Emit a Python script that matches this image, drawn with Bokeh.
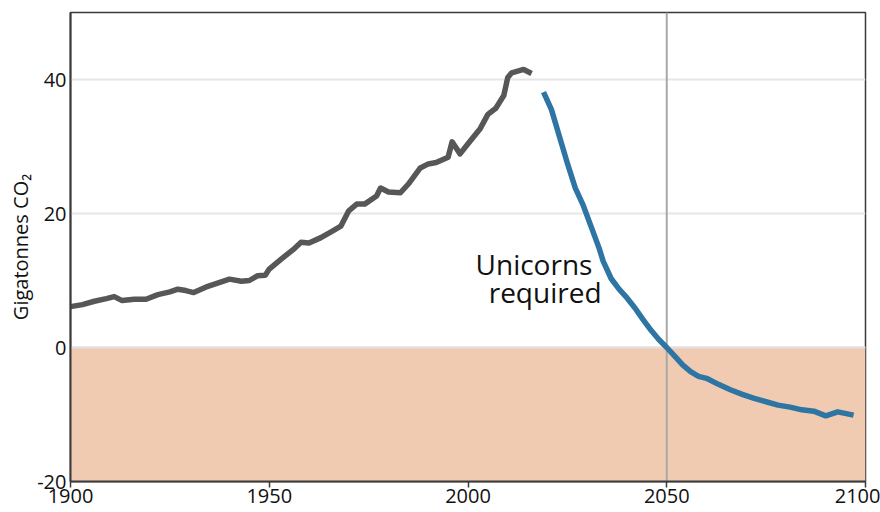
from bokeh.plotting import figure
from bokeh.models import Span, BoxAnnotation, Label, FixedTicker
from bokeh.embed import file_html
from bokeh.resources import INLINE

# Historical emissions (Gt CO2)
hist_years = [1900, 1903, 1906, 1909, 1911, 1913, 1916, 1919, 1922, 1925, 1927, 1929,
              1931, 1934, 1937, 1940, 1943, 1945, 1947, 1949, 1950, 1953, 1956, 1958,
              1960, 1963, 1966, 1968, 1970, 1972, 1974, 1977, 1978, 1980, 1983, 1985,
              1988, 1990, 1992, 1995, 1996, 1998, 2000, 2003, 2005, 2007, 2009, 2010,
              2011, 2014, 2016]
hist_values = [6.1, 6.4, 6.9, 7.3, 7.6, 7.0, 7.2, 7.2, 7.9, 8.3, 8.7, 8.5,
               8.2, 9.0, 9.6, 10.2, 9.9, 10.0, 10.7, 10.8, 11.7, 13.2, 14.6, 15.7,
               15.6, 16.4, 17.4, 18.1, 20.4, 21.4, 21.4, 22.6, 23.8, 23.2, 23.1, 24.4,
               26.8, 27.4, 27.6, 28.4, 30.7, 28.9, 30.4, 32.6, 34.8, 35.7, 37.6, 40.3,
               41.0, 41.5, 40.9]

# Required pathway (Gt CO2)
path_years = [2019, 2021, 2023, 2025, 2027, 2029, 2031, 2033, 2034, 2036, 2038, 2040,
              2042, 2044, 2046, 2048, 2050, 2052, 2054, 2056, 2058, 2060, 2063, 2066,
              2069, 2072, 2075, 2078, 2081, 2084, 2087, 2090, 2093, 2097]
path_values = [38.1, 35.5, 31.5, 27.5, 23.8, 21.2, 18.0, 14.8, 12.9, 10.3, 8.7, 7.4,
               5.9, 4.2, 2.6, 1.2, 0.0, -1.3, -2.6, -3.6, -4.3, -4.6, -5.5, -6.3,
               -7.0, -7.6, -8.1, -8.6, -8.9, -9.3, -9.5, -10.2, -9.6, -10.1]

x_ticks = [1900, 1950, 2000, 2050, 2100]
y_ticks = [-20, 0, 20, 40]
net_zero_year = 2050

FONT = "Open Sans"

p = figure(width=880, height=512, x_range=(1900, 2100), y_range=(-20, 50),
           output_backend="svg", toolbar_location=None,
           min_border_left=70, min_border_right=15, min_border_top=12, min_border_bottom=31)

p.background_fill_color = "white"
p.border_fill_color = "white"
p.outline_line_color = "#3a3a3a"
p.outline_line_width = 1.5

p.xgrid.visible = False
p.ygrid.ticker = FixedTicker(ticks=y_ticks)
p.ygrid.grid_line_color = "#e6e6e6"
p.ygrid.grid_line_width = 2

# negative-emissions shading
p.add_layout(BoxAnnotation(top=0, fill_color="#f0cbb1", fill_alpha=1.0,
                           line_color=None, level="underlay"))
p.add_layout(Span(location=0, dimension="width", line_color="#e0e0e0",
                  line_width=2, level="underlay"))
p.add_layout(Span(location=net_zero_year, dimension="height", line_color="#a8a8a8",
                  line_width=2, level="underlay"))

p.line(hist_years, hist_values, line_color="#575757", line_width=5.5,
       line_join="round", line_cap="butt")
p.line(path_years, path_values, line_color="#2e75a3", line_width=5.5,
       line_join="round", line_cap="butt")

p.xaxis.ticker = FixedTicker(ticks=x_ticks)
p.yaxis.ticker = FixedTicker(ticks=y_ticks)
p.yaxis.major_label_overrides = {t: str(t) for t in y_ticks}
for ax in (p.xaxis[0], p.yaxis[0]):
    ax.axis_line_color = "#3a3a3a"
    ax.axis_line_width = 2
    ax.major_tick_line_color = "#3a3a3a"
    ax.major_tick_line_width = 1.5
    ax.minor_tick_line_color = None
    ax.major_label_text_font = FONT
    ax.major_label_text_font_size = "20px"
    ax.major_label_text_color = "#111111"

p.xaxis.major_tick_out = 6
p.xaxis.major_tick_in = 0
p.xaxis.major_label_standoff = 1
p.yaxis.major_tick_out = 0
p.yaxis.major_tick_in = 0
p.yaxis.major_label_standoff = 4

p.yaxis.axis_label = "Gigatonnes CO₂"
p.yaxis.axis_label_text_font = FONT
p.yaxis.axis_label_text_font_size = "20px"
p.yaxis.axis_label_text_font_style = "normal"
p.yaxis.axis_label_text_color = "#111111"
p.yaxis.axis_label_standoff = 0

p.add_layout(Label(x=2016.6, y=12.5, text="Unicorns", text_align="center",
                   text_baseline="alphabetic", text_font=FONT,
                   text_font_size="28px", text_color="#111111"))
p.add_layout(Label(x=2019.4, y=8.3, text="required", text_align="center",
                   text_baseline="alphabetic", text_font=FONT,
                   text_font_size="28px", text_color="#111111"))

open("out.html", "w").write(file_html(p, INLINE))
